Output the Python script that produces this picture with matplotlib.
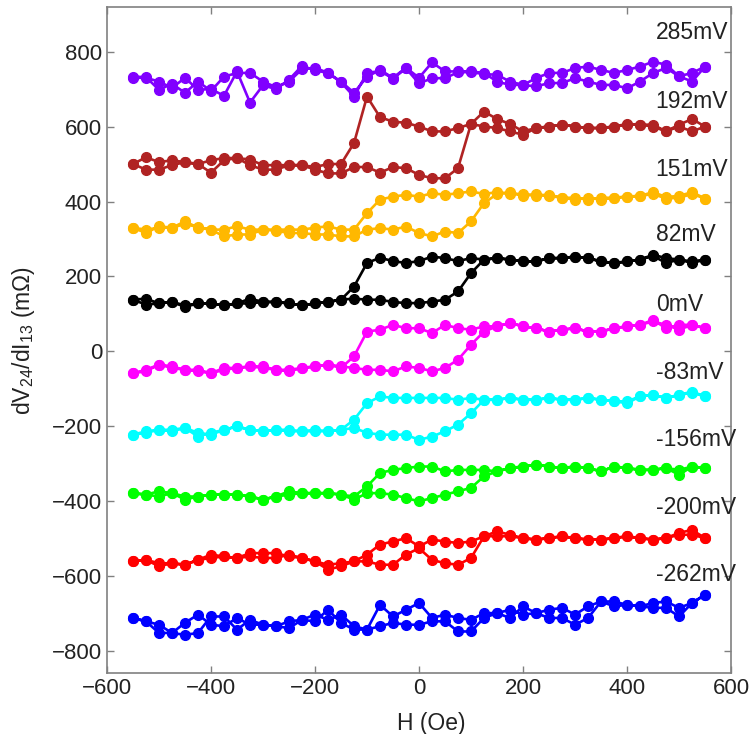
import numpy as np
import matplotlib
matplotlib.use("Agg")
import matplotlib.pyplot as plt

# field sweep grid (Oe), 25 Oe steps
field = np.arange(-550, 551, 25)

# each curve: sweep up (-550 -> 550) and sweep down, both listed from -550 to 550
purple_up = [730, 730, 720, 703, 730, 698, 700, 682, 747, 664, 710, 700, 725, 762, 750, 743, 720, 690, 733, 751, 730, 757, 730,
             771, 747, 747, 747, 743, 720, 711, 711, 707, 716, 716, 729, 720, 711, 711, 702, 720, 743, 756, 734, 720, 760]
purple_dn = [733, 732, 698, 714, 690, 720, 695, 733, 743, 743, 720, 705, 720, 753, 757, 743, 718, 680, 743, 748, 728, 755, 715,
             729, 729, 745, 745, 740, 738, 720, 711, 729, 743, 743, 756, 760, 751, 743, 751, 760, 773, 765, 734, 743, 760]

brown_up = [500, 485, 485, 497, 505, 500, 477, 510, 516, 497, 485, 485, 497, 497, 485, 475, 475, 492, 492, 477, 492, 489, 471,
            462, 462, 489, 607, 640, 620, 607, 587, 596, 600, 605, 600, 596, 596, 600, 607, 605, 600, 587, 600, 587, 600]
brown_dn = [500, 518, 505, 510, 505, 500, 510, 516, 516, 512, 497, 497, 497, 497, 492, 500, 500, 556, 680, 625, 613, 610, 600,
            587, 587, 596, 607, 600, 596, 587, 578, 596, 600, 605, 600, 596, 596, 600, 605, 605, 605, 587, 605, 620, 600]

orange_up = [330, 316, 334, 330, 347, 330, 325, 307, 312, 312, 325, 322, 316, 316, 312, 312, 307, 307, 325, 329, 325, 333, 316,
             307, 320, 316, 347, 396, 420, 425, 415, 420, 415, 410, 405, 410, 405, 410, 413, 415, 420, 408, 410, 420, 408]
orange_dn = [330, 325, 330, 330, 340, 332, 325, 325, 334, 325, 325, 325, 325, 325, 330, 334, 325, 325, 369, 405, 413, 418, 413,
             422, 418, 422, 427, 420, 425, 420, 420, 415, 418, 410, 410, 405, 410, 410, 413, 415, 425, 412, 415, 425, 408]

black_up = [138, 125, 128, 132, 119, 128, 128, 123, 128, 141, 132, 132, 128, 123, 128, 132, 138, 141, 138, 138, 132, 129, 129,
            133, 138, 160, 209, 245, 249, 245, 240, 240, 249, 249, 253, 249, 240, 236, 240, 245, 258, 249, 245, 236, 245]
black_dn = [138, 141, 128, 132, 123, 128, 128, 123, 128, 128, 132, 132, 128, 123, 128, 132, 138, 173, 236, 250, 241, 236, 241,
            253, 249, 241, 249, 245, 249, 245, 240, 240, 249, 249, 253, 249, 240, 236, 240, 245, 255, 236, 245, 240, 245]

magenta_up = [-58, -53, -35, -40, -49, -53, -58, -49, -44, -40, -44, -49, -49, -44, -40, -35, -40, -44, -49, -49, -53, -40, -44,
              -53, -44, -22, 18, 53, 67, 76, 67, 62, 53, 58, 62, 53, 53, 62, 67, 71, 80, 71, 58, 71, 62]
magenta_dn = [-58, -49, -35, -44, -49, -49, -58, -44, -44, -40, -40, -49, -53, -44, -40, -35, -44, -13, 53, 58, 71, 62, 62,
              49, 71, 62, 58, 67, 67, 76, 67, 62, 53, 58, 62, 53, 53, 62, 67, 71, 84, 62, 71, 71, 62]

cyan_up = [-222, -217, -209, -209, -204, -227, -217, -209, -200, -209, -213, -209, -209, -213, -213, -213, -209, -204, -217, -222, -222, -222, -236,
           -227, -213, -195, -165, -129, -129, -124, -129, -129, -124, -129, -129, -124, -129, -133, -138, -120, -116, -124, -116, -107, -120]
cyan_dn = [-222, -213, -209, -213, -204, -217, -222, -209, -200, -209, -213, -209, -213, -213, -209, -213, -209, -182, -138, -120, -124, -124, -124,
           -124, -124, -129, -124, -129, -129, -124, -129, -129, -124, -129, -129, -124, -129, -133, -133, -120, -116, -124, -116, -110, -120]

green_up = [-378, -382, -387, -378, -395, -387, -382, -382, -382, -387, -395, -387, -382, -378, -378, -378, -382, -395, -378, -378, -382, -391, -400,
            -391, -382, -373, -364, -333, -320, -311, -307, -302, -307, -311, -307, -311, -320, -307, -311, -316, -316, -311, -329, -307, -311]
green_dn = [-378, -382, -373, -378, -387, -387, -382, -382, -382, -387, -395, -387, -373, -378, -378, -378, -382, -387, -360, -324, -316, -311, -307,
            -307, -320, -316, -316, -316, -320, -311, -307, -302, -307, -311, -307, -311, -320, -307, -311, -316, -316, -311, -316, -307, -311]

red_up = [-560, -556, -573, -565, -569, -556, -542, -547, -551, -538, -538, -538, -547, -551, -560, -582, -573, -560, -560, -569, -569, -542, -525,
          -556, -565, -569, -551, -493, -480, -489, -498, -502, -498, -493, -498, -502, -502, -498, -493, -498, -502, -498, -484, -476, -498]
red_dn = [-560, -556, -565, -565, -569, -556, -551, -547, -551, -547, -551, -551, -542, -551, -560, -569, -565, -560, -542, -515, -507, -498, -520,
          -502, -507, -511, -507, -493, -493, -493, -498, -502, -498, -493, -498, -502, -502, -498, -493, -498, -502, -498, -489, -489, -498]

blue_up = [-711, -720, -751, -751, -756, -751, -707, -707, -742, -716, -729, -733, -738, -716, -720, -689, -724, -742, -742, -733, -724, -729, -729,
           -720, -720, -747, -747, -711, -698, -711, -680, -698, -711, -711, -729, -711, -667, -680, -676, -680, -684, -684, -707, -671, -649]
blue_dn = [-711, -720, -729, -751, -724, -702, -729, -733, -711, -729, -729, -733, -720, -716, -702, -716, -702, -733, -742, -676, -707, -689, -671,
           -711, -702, -711, -716, -698, -698, -689, -702, -698, -689, -684, -702, -680, -667, -667, -676, -680, -671, -667, -684, -671, -649]

bias_labels = ["285mV", "192mV", "151mV", "82mV", "0mV", "-83mV", "-156mV", "-200mV", "-262mV"]
curves_up = [purple_up, brown_up, orange_up, black_up, magenta_up, cyan_up, green_up, red_up, blue_up]
curves_dn = [purple_dn, brown_dn, orange_dn, black_dn, magenta_dn, cyan_dn, green_dn, red_dn, blue_dn]
colors = ["#8000FF", "#B02323", "#FFB800", "#000000", "#FF00FF", "#00FFFF", "#00FF00", "#FF0000", "#0000FF"]
label_y = [850, 666, 485, 311, 124, -57, -235, -417, -596]

plt.rcParams["font.family"] = ["Liberation Sans", "DejaVu Sans"]
plt.rcParams["mathtext.default"] = "regular"

fig = plt.figure(figsize=(7.56, 7.34), dpi=100)
ax = fig.add_axes([0.1415, 0.083, 0.8255, 0.907])

for up, dn, c in zip(curves_up, curves_dn, colors):
    x = np.concatenate([field, field[::-1]])
    y = np.concatenate([up, dn[::-1]])
    ax.plot(x, y, "-o", color=c, lw=1.9, ms=7, mec=c, mfc=c)

for lab, ly in zip(bias_labels, label_y):
    ax.text(455, ly, lab, fontsize=16.5, color="#222222", ha="left", va="center")

ax.set_xlim(-600, 600)
ax.set_ylim(-858, 918)
ax.set_xticks([-600, -400, -200, 0, 200, 400, 600])
ax.set_yticks([-800, -600, -400, -200, 0, 200, 400, 600, 800])
ax.tick_params(direction="in", length=5, width=1, colors="#808080",
               labelcolor="#222222", labelsize=16, top=True, right=True)
for sp in ax.spines.values():
    sp.set_color("#808080")
    sp.set_linewidth(1.2)

ax.set_xlabel("H (Oe)", fontsize=16.5, color="#222222")
ax.xaxis.set_label_coords(0.52, -0.058)
ax.set_ylabel(r"dV$_{24}$/dI$_{13}$ (m$\Omega$)", fontsize=16.5, color="#222222")
ax.yaxis.set_label_coords(-0.112, 0.5)

fig.savefig("out.png", dpi=100)
